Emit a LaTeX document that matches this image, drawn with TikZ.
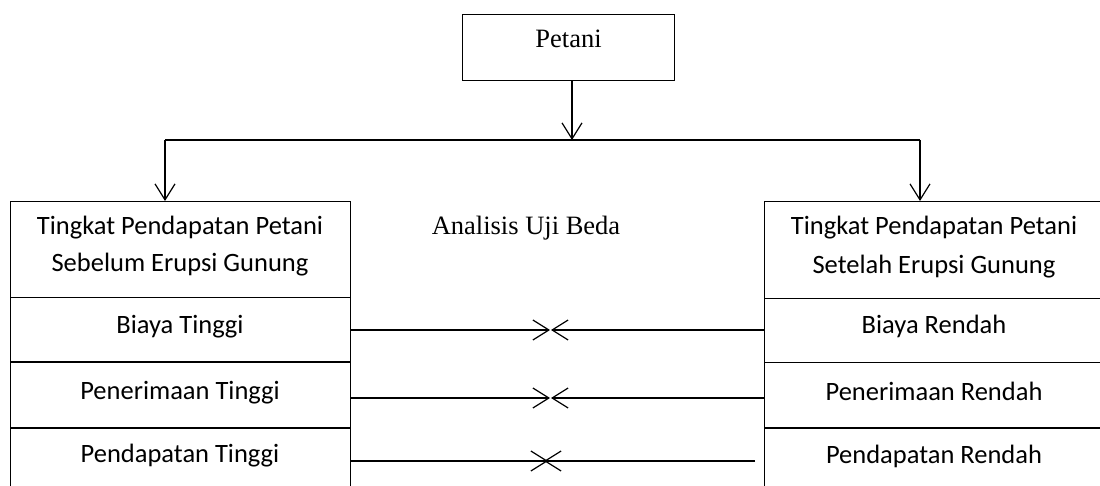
\documentclass[tikz,border=0pt]{standalone}
\usepackage{fontspec}
\setmainfont{Liberation Serif}
\newfontfamily\calfont{Carlito}
\usetikzlibrary{arrows.meta}
\begin{document}
\begin{tikzpicture}[x=1pt,y=-1pt,
  box/.style={draw,line width=1.2pt,anchor=north west,inner sep=0pt},
  lbl/.style={anchor=base,inner sep=0pt,font=\calfont\fontsize{26.5}{32}\selectfont},
  tlbl/.style={anchor=base,inner sep=0pt,font=\fontsize{26.5}{32}\selectfont},
  conn/.style={line width=1.2pt},
  arr/.style={line width=1.2pt,-{Straight Barb[length=16pt,width=20pt]}}]
\useasboundingbox[fill=white] (0,0) rectangle (1100,486);
\clip (0,0) rectangle (1100,486);
% Petani
\node[box,minimum width=212pt,minimum height=66pt] (pet) at (462,14) {};
\node[tlbl] (petl) at (568.5,48) {Petani};
\coordinate (j) at (572,140);
\coordinate (jl) at (165,140);
\coordinate (jr) at (920,140);
% left boxes
\node[box,minimum width=340pt,minimum height=96pt] (lh) at (10,201) {};
\node[box,minimum width=340pt,minimum height=64pt] (lr1) at (10,297) {};
\node[box,minimum width=340pt,minimum height=65pt] (lr2) at (10,362) {};
\node[box,minimum width=340pt,minimum height=70pt] (lr3) at (10,428) {};
% right boxes
\node[box,minimum width=340pt,minimum height=97pt] (rh) at (764,201) {};
\node[box,minimum width=340pt,minimum height=64pt] (rr1) at (764,298) {};
\node[box,minimum width=340pt,minimum height=65pt] (rr2) at (764,362) {};
\node[box,minimum width=340pt,minimum height=70pt] (rr3) at (764,428) {};
% texts
\node[lbl] (lh1) at (180,235) {Tingkat Pendapatan Petani};
\node[lbl] (lh2) at (180,272) {Sebelum Erupsi Gunung};
\node[lbl] (lt1) at (180,333) {Biaya Tinggi};
\node[lbl] (lt2) at (180,399) {Penerimaan Tinggi};
\node[lbl] (lt3) at (180,462) {Pendapatan Tinggi};
\node[lbl] (rh1) at (934,235) {Tingkat Pendapatan Petani};
\node[lbl] (rh2) at (934,273) {Setelah Erupsi Gunung};
\node[lbl] (rt1) at (934,334) {Biaya Rendah};
\node[lbl] (rt2) at (934,400) {Penerimaan Rendah};
\node[lbl] (rt3) at (934,463) {Pendapatan Rendah};
\node[tlbl] (ana) at (526,235) {Analisis Uji Beda};
% top connectors
\draw[arr] (pet.south -| j) -- (j);
\draw[conn] (jl) -- (jr);
\draw[arr] (jl) -- (jl |- lh.north);
\draw[arr] (jr) -- (jr |- rh.north);
% comparison connectors
\coordinate (m1l) at (550,330);
\coordinate (m1r) at (551,330);
\coordinate (m2l) at (550,398);
\coordinate (m2r) at (551,398);
\coordinate (m3l) at (548,461);
\coordinate (m3r) at (544,461);
\coordinate (e3) at (755,461);
\draw[arr] (lr1.east |- m1l) -- (m1l);
\draw[arr] (rr1.west |- m1r) -- (m1r);
\draw[arr] (lr2.east |- m2l) -- (m2l);
\draw[arr] (rr2.west |- m2r) -- (m2r);
\draw[arr] (lr3.east |- m3l) -- (m3l);
\draw[arr] (e3) -- (m3r);
\end{tikzpicture}
\end{document}
